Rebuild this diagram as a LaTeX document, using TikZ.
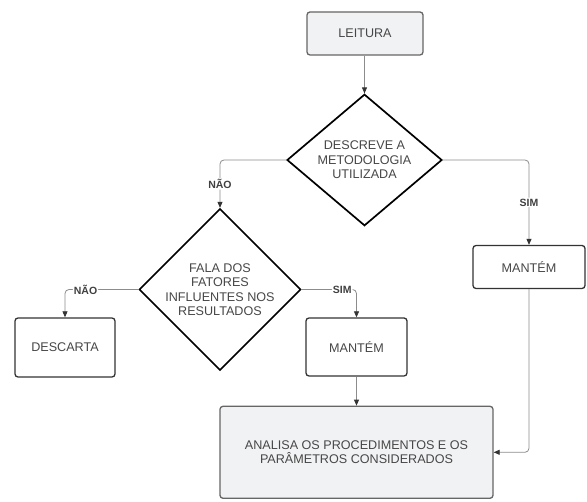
\documentclass[tikz,border=0pt]{standalone}
\usepackage{fontspec}
\setmainfont{Liberation Sans}
\usetikzlibrary{shapes.geometric, arrows.meta, positioning}
\definecolor{boxfill}{HTML}{F1F2F4}
\definecolor{txtgray}{HTML}{474747}
\definecolor{lingray}{HTML}{8C8C8C}

\begin{document}
\begin{tikzpicture}[x=1pt, y=-1pt, font=\fontsize{12.6}{14.5}\selectfont, text=txtgray,
  bx/.style={rectangle,draw=black!80,line width=1.3pt,fill=white,align=center,rounded corners=3pt,inner sep=0pt},
  gbx/.style={bx,draw=black!60,fill=boxfill},
  dec/.style={diamond,draw=black,line width=1.7pt,fill=white,align=center,inner sep=0pt},
  conn/.style={draw=lingray,line width=0.8pt,rounded corners=4pt,-{Triangle[length=6pt,width=5pt,color=black!80]}},
  lbl/.style={fill=white,font=\fontsize{10.5}{12}\bfseries,text=black!75,inner sep=1pt}]
  \useasboundingbox (0,0) rectangle (587,502);
  \node[gbx,minimum width=116pt,minimum height=43pt](leit) at (365,33.5){LEITURA};
  \node[dec,minimum width=155pt,minimum height=124pt](d1) at (364.5,160){DESCREVE A\\METODOLOGIA\\UTILIZADA};
  \node[dec,minimum width=146pt,minimum height=115pt](d2) at (220,289.5){FALA DOS\\FATORES\\INFLUENTES NOS\\RESULTADOS};
  \node[bx,minimum width=100pt,minimum height=59pt](desc) at (65,347.5){DESCARTA};
  \node[bx,minimum width=101pt,minimum height=58pt](m1) at (356.5,347){MANTÉM};
  \node[bx,minimum width=112pt,minimum height=43pt](m2) at (529,267){MANTÉM};
  \node[gbx,minimum width=273pt,minimum height=92pt,below=29pt of m1](ana){ANALISA OS PROCEDIMENTOS E OS\\PARÂMETROS CONSIDERADOS};
  \draw[conn](leit.south -| d1)--(d1.north);
  \draw[conn](d1.west) -| node[lbl,pos=0.75]{NÃO} (d2.north);
  \draw[conn](d1.east) -| node[lbl,pos=0.75]{SIM} (m2.north);
  \draw[conn](d2.west) -| node[lbl,pos=0.36]{NÃO} (desc.north);
  \draw[conn](d2.east) -| node[lbl,pos=0.37]{SIM} (m1.north);
  \draw[conn](m1)--(ana);
  \draw[conn](m2.south) |- (ana.east);
\end{tikzpicture}
\end{document}
